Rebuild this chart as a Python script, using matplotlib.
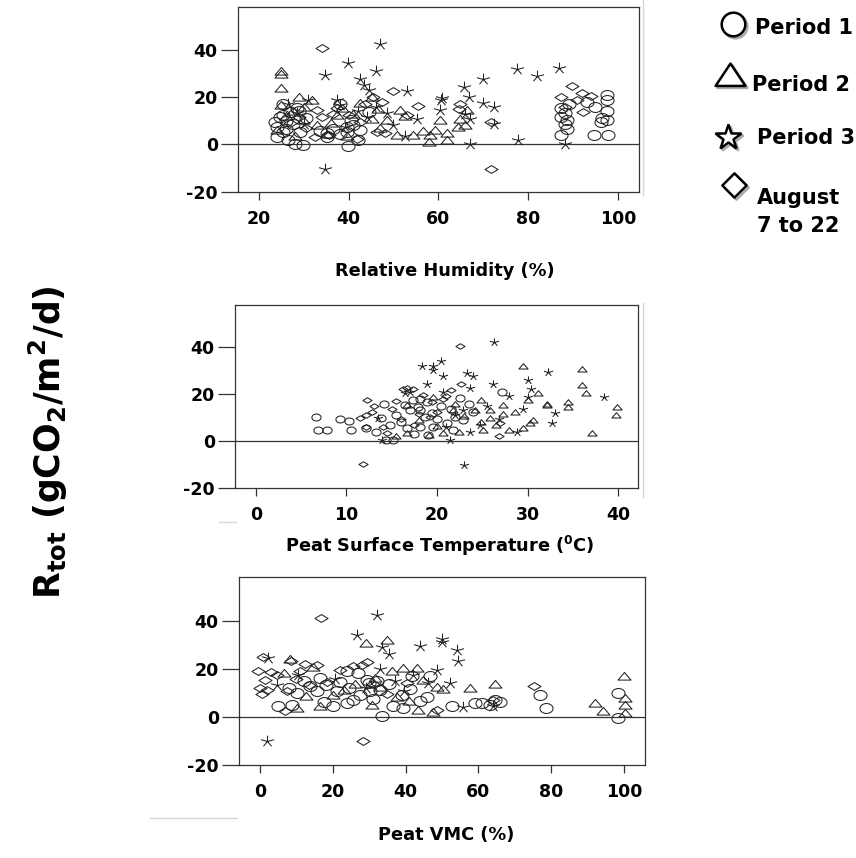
import numpy as np
import matplotlib
matplotlib.use('Agg')
import matplotlib.pyplot as plt
from matplotlib.path import Path

plt.rcParams['font.family'] = ['DejaVu Sans']
plt.rcParams['font.weight'] = 'bold'
plt.rcParams['mathtext.fontset'] = 'custom'
plt.rcParams['mathtext.rm'] = 'DejaVu Sans:bold'
plt.rcParams['mathtext.it'] = 'DejaVu Sans:bold'
plt.rcParams['mathtext.bf'] = 'DejaVu Sans:bold'
plt.rcParams['axes.unicode_minus'] = False

# ---- data: (x, Rtot) pairs per period ----
# panel 1 : relative humidity (%)
rh_period1 = [(97.5, 20.9), (97.5, 18.7), (97.5, 14.0), (97.5, 10.2), (96.3, 9.5), (97.9, 4.1),
              (94.6, 3.8), (95.0, 15.9), (93.1, 17.9), (87.3, 11.6), (88.1, 8.8), (88.6, 6.7),
              (87.3, 4.1), (88.1, 13.1), (89.1, 17.3), (87.3, 15.2), (88.6, 10.2), (96.5, 11.0),
              (29.7, -0.4), (39.8, -0.6), (42.1, 2.0), (25.4, 16.9), (24.7, 11.6), (23.9, 7.4),
              (24.1, 3.1), (26.5, 1.7), (28.0, 0.3), (26.1, 6.7), (27.6, 8.8), (29.1, 5.2),
              (35.1, 4.8), (35.1, 3.1), (38.1, 4.5), (39.6, 7.4), (39.6, 5.2), (38.1, 17.3),
              (25.4, 12.3), (28.4, 15.2), (25.4, 5.2), (41.0, 8.1), (42.6, 6.0), (27.0, 13.5),
              (30.5, 11.0), (23.5, 9.5), (36.5, 6.5), (40.5, 10.5), (26.0, 10.0), (29.0, 14.0),
              (44.5, 13.5), (33.5, 5.5)]
rh_period2 = [(24.9, 31.2), (24.9, 29.8), (24.9, 23.7), (28.8, 20.1), (57.8, 1.0), (61.9, 2.0),
              (64.4, 7.4), (60.4, 10.5), (59.2, 6.0), (61.9, 4.8), (56.6, 5.5), (50.7, 3.8),
              (45.1, 10.9), (35.1, 4.5), (37.3, 12.3), (31.8, 18.7), (66.3, 14.5), (64.8, 10.9),
              (45.1, 20.1), (51.5, 14.5), (54.4, 3.8), (48.5, 10.2), (23.9, 6.0), (29.9, 10.2),
              (24.9, 16.6), (27.5, 14.0), (30.0, 16.0), (26.0, 12.0), (38.5, 15.5), (41.0, 13.0),
              (36.0, 9.0), (42.5, 17.5), (52.5, 12.0), (58.0, 4.0), (47.0, 7.0), (33.0, 8.0),
              (28.0, 3.5), (66.0, 8.0), (46.5, 15.0), (39.5, 3.5)]
rh_period3 = [(47.0, 42.6), (39.8, 34.3), (34.7, 29.4), (46.1, 31.0), (42.5, 27.7), (43.3, 25.1),
              (44.4, 23.0), (52.9, 22.7), (65.6, 24.1), (70.0, 27.7), (77.5, 31.9), (81.9, 28.9),
              (86.8, 32.5), (60.5, 18.7), (66.7, 20.1), (69.9, 17.6), (72.3, 15.9), (60.4, 14.5),
              (55.2, 10.9), (48.5, 13.1), (67.0, 10.9), (72.3, 8.8), (49.9, 8.1), (52.5, 3.4),
              (67.0, 0.0), (77.7, 1.7), (88.1, 0.0), (34.6, -10.6), (37.3, 18.7), (39.2, 7.4),
              (31.0, 18.7), (28.4, 13.1), (44.0, 11.5), (60.8, 19.5), (46.0, 16.0), (42.0, 14.0),
              (38.0, 16.5), (26.5, 17.0), (30.0, 8.5), (66.0, 13.0)]
rh_august = [(34.0, 41.0), (49.9, 22.7), (55.5, 16.2), (71.6, -10.4), (89.7, 24.7), (92.0, 21.8),
             (87.3, 20.1), (92.3, 13.8), (88.1, 15.9), (46.2, 5.2), (47.3, 17.9), (43.6, 17.3),
             (45.5, 20.1), (34.0, 11.4), (64.8, 17.3), (71.6, 9.6), (37.3, 15.2), (41.8, 2.4),
             (90.8, 18.7), (94.0, 20.5), (33.0, 14.5), (40.0, 12.5), (30.5, 7.0), (27.0, 9.0),
             (36.5, 13.0), (29.0, 11.5), (42.5, 9.5), (53.0, 12.5), (64.5, 15.0), (35.5, 4.0),
             (32.5, 3.0), (48.0, 5.0)]

# panel 2 : peat surface temperature (0C)
temp_period1 = [(6.6, 10.3), (6.9, 4.7), (7.9, 4.7), (9.3, 9.4), (10.3, 8.6), (10.5, 4.7), (12.2, 5.4),
                (13.3, 4.0), (14.1, 16.0), (14.4, 0.4), (15.2, 0.4), (17.4, 17.4), (18.1, 18.1),
                (17.0, 13.2), (18.1, 13.2), (18.7, 10.3), (18.1, 6.1), (16.7, 5.4), (19.6, 5.8),
                (22.0, 10.3), (22.9, 8.9), (23.5, 16.0), (21.1, 7.5), (17.9, 14.6), (27.2, 21.0),
                (18.9, 16.7), (16.0, 8.0), (15.5, 11.0), (19.5, 12.0), (20.5, 15.0), (21.5, 13.5),
                (20.0, 9.5), (17.5, 3.0), (16.5, 15.5), (19.0, 2.5), (22.5, 18.5), (24.0, 12.5),
                (14.8, 7.0), (13.8, 10.0), (21.8, 4.5)]
temp_period2 = [(29.5, 31.9), (31.2, 20.3), (32.1, 15.3), (30.1, 17.4), (29.5, 5.4), (27.3, 15.3),
                (25.9, 13.2), (27.3, 11.5), (28.6, 12.5), (30.3, 7.5), (30.6, 8.9), (24.9, 8.2),
                (25.1, 4.7), (22.4, 4.0), (20.7, 3.3), (20.0, 6.4), (19.1, 2.6), (24.2, 13.2),
                (25.9, 9.7), (21.8, 13.2), (19.6, 18.8), (24.9, 17.4), (16.7, 15.3), (16.7, 3.3),
                (37.1, 3.3), (39.9, 14.3), (39.8, 11.1), (36.0, 30.6), (36.0, 23.8), (36.5, 20.3),
                (34.5, 16.7), (34.5, 14.6), (32.1, 15.6), (15.5, 2.0), (18.0, 9.0), (23.0, 10.5),
                (26.5, 7.0), (28.0, 4.5), (22.0, 16.0)]
temp_period3 = [(18.3, 32.1), (18.9, 24.3), (13.5, 9.7), (13.9, 0.4), (19.6, 32.1), (20.4, 34.2),
                (19.6, 30.5), (20.7, 27.7), (23.3, 29.2), (24.0, 27.8), (26.2, 24.3), (23.6, 22.7),
                (30.1, 26.2), (32.3, 29.5), (30.4, 22.4), (30.1, 18.8), (33.0, 12.1), (32.7, 7.8),
                (28.8, 4.0), (29.5, 13.5), (23.6, 4.0), (24.8, 6.8), (21.4, 0.4), (23.0, -10.2),
                (22.9, 13.2), (20.7, 21.0), (26.8, 9.2), (26.3, 42.3), (38.4, 18.6), (17.0, 21.0),
                (22.0, 11.0), (25.5, 15.0), (28.0, 19.0), (21.0, 6.0), (16.5, 20.5)]
temp_august = [(11.8, -9.8), (12.3, 17.7), (11.5, 9.7), (12.2, 11.1), (12.8, 12.5), (16.7, 22.8),
               (17.4, 22.4), (12.2, 5.8), (22.5, 40.8), (22.7, 24.5), (27.0, 7.5), (26.8, 2.1),
               (21.6, 21.7), (20.7, 18.1), (19.2, 10.3), (16.3, 22.4), (14.0, 6.0), (15.0, 13.5),
               (16.0, 9.5), (18.5, 19.5), (19.5, 16.5), (15.5, 17.0), (17.5, 7.0), (20.0, 12.5),
               (14.5, 3.5), (18.0, 11.5), (21.0, 19.0), (13.0, 15.0)]

# panel 3 : peat VMC (%)
vmc_period1 = [(76.9, 9.2), (78.6, 3.6), (98.4, 9.9), (98.4, -0.5), (33.4, 0.1), (52.7, 4.3), (59.1, 5.7),
               (60.9, 5.7), (65.9, 6.0), (63.2, 5.0), (5.0, 4.6), (8.7, 5.0), (20.1, 4.6), (23.8, 5.7),
               (25.6, 7.1), (41.2, 11.3), (38.9, 9.2), (45.8, 8.2), (39.4, 3.6), (36.6, 4.3),
               (23.8, 18.9), (27.0, 18.2), (30.2, 10.5), (29.8, 14.0), (13.7, 12.6), (10.1, 9.9),
               (15.6, 10.5), (21.1, 10.5), (41.7, 16.8), (46.7, 16.8), (32.1, 14.7), (29.3, 15.4),
               (18.0, 13.0), (22.0, 14.5), (33.0, 11.0), (35.5, 13.5), (27.5, 9.0), (12.0, 15.0),
               (16.5, 16.0), (44.0, 6.5), (31.0, 7.5), (8.0, 12.0), (64.5, 7.0), (17.5, 6.0), (24.5, 12.0)]
vmc_period2 = [(29.1, 30.7), (34.8, 32.1), (39.4, 20.3), (43.0, 20.3), (36.2, 18.9), (57.7, 12.0),
               (64.6, 13.6), (100.1, 16.8), (92.0, 5.7), (94.3, 2.2), (100.3, 7.8), (100.3, 5.0),
               (100.3, 1.5), (50.4, 11.3), (44.9, 15.4), (43.5, 2.6), (47.6, 1.8), (30.7, 5.0),
               (16.5, 4.3), (10.1, 3.6), (8.2, 23.8), (33.0, 12.5), (37.5, 8.0), (20.0, 9.0),
               (12.5, 8.5), (26.0, 13.5), (41.0, 6.5), (48.5, 12.5), (6.5, 18.0), (14.5, 20.5),
               (31.5, 16.0), (23.0, 11.0)]
vmc_period3 = [(32.1, 42.5), (26.6, 34.2), (33.4, 29.0), (35.5, 26.2), (44.0, 29.6), (49.9, 32.4),
               (49.9, 31.1), (54.0, 27.9), (54.3, 23.0), (48.5, 19.6), (52.2, 14.0), (46.2, 13.8),
               (55.9, 3.9), (1.8, -10.3), (2.3, 24.4), (4.6, 13.3), (64.1, 4.3), (33.0, 20.0),
               (37.0, 15.0), (29.0, 12.0), (42.0, 17.5), (10.5, 17.5), (20.5, 15.5), (39.5, 10.5)]
vmc_august = [(16.8, 41.1), (0.9, 24.9), (-0.6, 19.2), (0.0, 12.0), (0.5, 9.6), (1.4, 15.4), (4.6, 17.5),
              (6.9, 2.2), (8.5, 23.0), (12.4, 22.1), (15.6, 21.3), (28.4, -10.3), (29.3, 22.6),
              (75.3, 12.9), (64.1, 7.1), (25.6, 21.0), (48.5, 2.6), (3.0, 18.5), (10.0, 15.5),
              (13.5, 13.0), (7.5, 10.5), (18.5, 14.5), (22.0, 19.5), (31.0, 13.5), (35.0, 9.5),
              (28.0, 21.5), (40.5, 14.0), (11.0, 19.0), (2.0, 11.0)]

y_ticks = [-20, 0, 20, 40]
rh_ticks = [20, 40, 60, 80, 100]
temp_ticks = [0, 10, 20, 30, 40]
vmc_ticks = [0, 20, 40, 60, 80, 100]
legend_labels = ['Period 1', 'Period 2', 'Period 3', 'August\n7 to 22']

# ---- marker shapes (the source image is a bit stretched sideways) ----
t = np.linspace(0, 2 * np.pi, 41)
m_circle = Path(np.column_stack([np.cos(t), 0.76 * np.sin(t)]), closed=True)
m_tri = Path([(-1, -0.55), (1, -0.55), (0, 0.62), (-1, -0.55)], closed=True)
m_diam = Path([(-1, 0), (0, 0.6), (1, 0), (0, -0.6), (-1, 0)], closed=True)
sv, sc = [], []
for a in np.deg2rad([90, 162, 234, 306, 18]):
    sv += [(0, 0), (np.cos(a), 0.85 * np.sin(a))]
    sc += [Path.MOVETO, Path.LINETO]
m_star = Path(sv, sc)

W, H = 856, 858


def rect(l, t, r, b):
    return [l / W, 1 - b / H, (r - l) / W, (b - t) / H]


fig = plt.figure(figsize=(8.56, 8.58), dpi=100)
ink = '#222222'

panels = [
    (rect(238, 7, 639, 192), (15.3, 104.7), rh_ticks,
     [rh_period1, rh_period2, rh_period3, rh_august], 9.4),
    (rect(235, 305, 638, 488), (-2.3, 42.2), temp_ticks,
     [temp_period1, temp_period2, temp_period3, temp_august], 6.6),
    (rect(239, 577, 645, 765), (-5.8, 105.8), vmc_ticks,
     [vmc_period1, vmc_period2, vmc_period3, vmc_august], 9.4),
]
shapes = [m_circle, m_tri, m_star, m_diam]

for pos, xlim, xt, groups, ms in panels:
    ax = fig.add_axes(pos)
    for pts, mk in zip(groups, shapes):
        xs, ys = zip(*pts)
        ax.plot(xs, ys, ls='none', marker=mk, ms=ms, mfc='none', mec=ink, mew=0.75)
    ax.axhline(0, color='#333333', lw=0.9, zorder=0)
    ax.set_xlim(*xlim)
    ax.set_ylim(-20.2, 58.2)
    ax.set_yticks(y_ticks, [str(v) for v in y_ticks])
    ax.set_xticks(xt, [str(v) for v in xt])
    for s in ax.spines.values():
        s.set_color('#333333')
        s.set_linewidth(0.9)
    ax.tick_params(axis='y', direction='out', length=12.5, width=0.9, color='#333333',
                   pad=2, labelsize=12.5)
    ax.tick_params(axis='x', direction='out', length=6, width=0.9, color='#333333',
                   pad=7, labelsize=12.5)

# axis titles
fig.text(445 / W, 1 - 271 / H, 'Relative Humidity (%)', ha='center', va='center', fontsize=12.8)
fig.text(440 / W, 1 - 546 / H, 'Peat Surface Temperature ($^0$C)', ha='center', va='center',
         fontsize=12.8)
fig.text(446 / W, 1 - 835 / H, 'Peat VMC (%)', ha='center', va='center', fontsize=12.8)
fig.text(48 / W, 1 - 442 / H, r'R$_\mathregular{tot}$ (gCO$_2$/m$^2$/d)', rotation=90,
         ha='center', va='center', fontsize=25)

# overlay for the legend and the faint scan lines
lax = fig.add_axes([0, 0, 1, 1], facecolor='none')
lax.set_xlim(0, W)
lax.set_ylim(H, 0)
lax.axis('off')

leg_mk = [('o', 17), (Path([(-1, -0.7), (1, -0.7), (0, 0.8), (-1, -0.7)], closed=True), 21.5),
          ('*', 19), (Path([(-1, 0), (0, 1), (1, 0), (0, -1), (-1, 0)], closed=True), 17.5)]
leg_mpos = [(733, 24), (730, 75), (728, 137), (734, 185)]
leg_tpos = [(755, 28), (752, 85), (757, 138), (757, 212)]
for (mk, ms), (mx, my), (tx, ty), lab in zip(leg_mk, leg_mpos, leg_tpos, legend_labels):
    lax.plot([mx + 2], [my + 2], ls='none', marker=mk, ms=ms, mfc='none', mec='#aaaaaa', mew=1.8)
    lax.plot([mx], [my], ls='none', marker=mk, ms=ms, mfc='white', mec='black', mew=1.8)
    lax.text(tx, ty, lab, ha='left', va='center', fontsize=15, linespacing=1.45)

faint = '#d6d6d6'
lax.plot([643, 643], [0, 195], color=faint, lw=1)
lax.plot([643, 643], [303, 497], color=faint, lw=1)
lax.plot([219, 236], [522, 522], color=faint, lw=1)
lax.plot([150, 237], [818, 818], color=faint, lw=1)

fig.savefig('out.png', dpi=100)
